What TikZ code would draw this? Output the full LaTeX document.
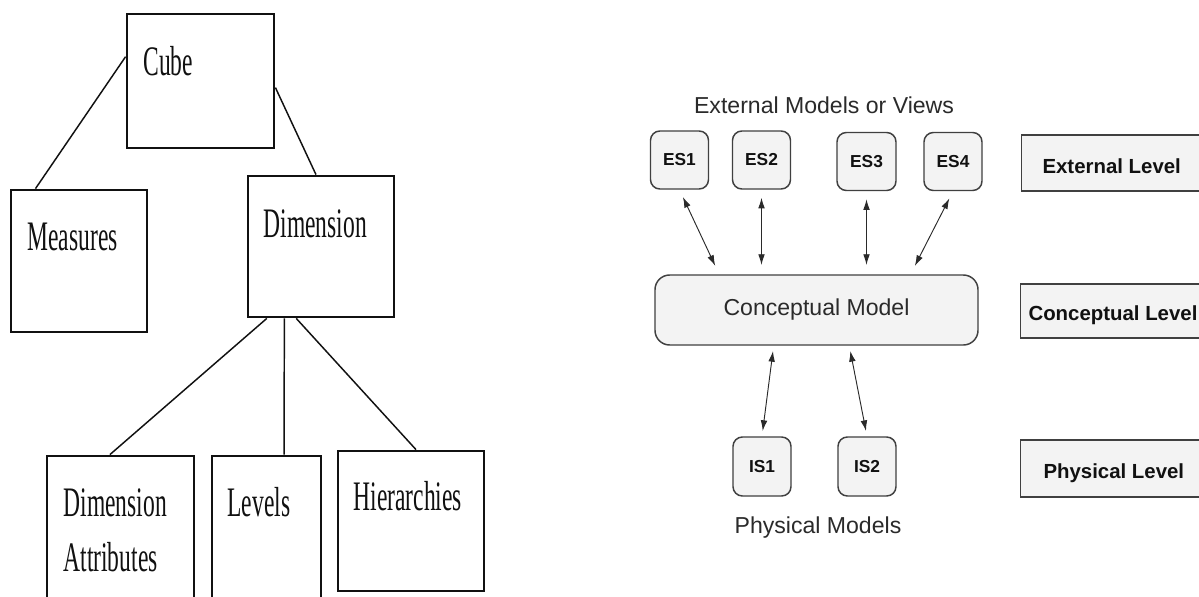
\documentclass[tikz,border=0pt]{standalone}
\usepackage{fontspec}
\usepackage{graphicx}
\setmainfont{Liberation Serif}
\setsansfont{Liberation Sans}
\usetikzlibrary{arrows.meta,calc}
\definecolor{ink}{HTML}{111111}
\definecolor{wire}{HTML}{2A2A2A}
\definecolor{shell}{HTML}{404040}
\definecolor{panel}{HTML}{F3F3F3}
\newcommand{\narrow}[1]{\scalebox{0.56}[1]{#1}}
\tikzset{
  every picture/.style={line width=0.8pt, text=ink},
  tree/.style={draw=ink, line width=2.1pt, fill=white, inner sep=0pt},
  treetext/.style={anchor=base west, inner sep=0pt, font=\fontsize{31.5}{41.25}\selectfont},
  link/.style={draw=ink, line width=1.1pt},
  schema/.style={draw=shell, fill=panel, line width=1.1pt, rounded corners=7pt, minimum width=43.5pt, minimum height=43.5pt, font=\sffamily\bfseries\fontsize{13}{15}\selectfont},
  caption/.style={anchor=base, inner sep=0pt, font=\sffamily\fontsize{17.3}{20}\selectfont, text=wire},
  lvlbox/.style={draw=shell, fill=panel, line width=1pt, minimum width=146pt, inner sep=0pt},
  lvltext/.style={anchor=base west, inner sep=0pt, font=\sffamily\bfseries\fontsize{15.3}{18}\selectfont},
  flow/.style={{Latex[length=8pt,width=5pt]}-{Latex[length=8pt,width=5pt]}, draw=wire, line width=0.7pt},
}

\begin{document}
\begin{tikzpicture}[x=0.75pt, y=-0.75pt]
\fill[white] (0,0) rectangle (1199,596);
\clip (0,0) rectangle (1199,596);

% cube schema tree
\node[tree, minimum width=110.25pt, minimum height=100.5pt] (cube) at (200.5,81) {};
\node[tree, minimum width=102pt, minimum height=106.5pt] (measures) at (79,261) {};
\node[tree, minimum width=109.5pt, minimum height=105.75pt] (dimension) at (321,246.5) {};
\node[tree, minimum width=110.25pt, minimum height=111pt] (dimattr) at (120.5,530) {};
\node[tree, minimum width=81.75pt, minimum height=111.75pt] (levels) at (266.5,530.5) {};
\node[tree, minimum width=109.5pt, minimum height=105pt] (hier) at (411,521) {};
\node[treetext] (cubetxt) at (143,75) {\narrow{Cube}};
\node[treetext] (measurestxt) at (27,250) {\narrow{Measures}};
\node[treetext] (dimensiontxt) at (263,237) {\narrow{Dimension}};
\node[treetext] (dimattrtxt) at (63,516) {\narrow{\begin{tabular}[t]{@{}l@{}}Dimension\\Attributes\end{tabular}}};
\node[treetext] (levelstxt) at (227,516) {\narrow{Levels}};
\node[treetext] (hiertxt) at (353,510) {\narrow{Hierarchies}};
\draw[link] (cube.162) -- (measures.121);
\draw[link] (cube.-5) -- (dimension.94);
\draw[link] (dimension.233) -- (dimattr.98);
\draw[link] (dimension.243) -- (levels.77);
\draw[link] (dimension.251) -- (hier.86);

% three level architecture
\node[caption] (extcap) at (824,113) {External Models or Views};
\node[schema] (es1) at (679.5,160) {ES1};
\node[schema] (es2) at (761.5,160) {ES2};
\node[schema, minimum width=44.25pt] (es3) at (866.5,161.5) {ES3};
\node[schema] (es4) at (953,161.5) {ES4};
\node[schema, minimum width=242.25pt, minimum height=52.5pt, rounded corners=11pt, font=\sffamily\fontsize{17.3}{20}\selectfont, text=wire] (concept) at (816.5,310) {Conceptual Model};
\node[schema, minimum height=44.25pt] (is1) at (762,466.5) {IS1};
\node[schema, minimum height=44.25pt] (is2) at (867,466.5) {IS2};
\node[caption] (phycap) at (818,533) {Physical Models};
\coordinate (c1) at ($(concept.north west)!0.2!(concept.north east)$);
\coordinate (c4) at ($(concept.north west)!0.79!(concept.north east)$);
\coordinate (b1) at ($(concept.south west)!0.368!(concept.south east)$);
\coordinate (b2) at ($(concept.south west)!0.601!(concept.south east)$);
\draw[flow, shorten <=6pt, shorten >=7pt] (es1.south) -- (c1);
\draw[flow, shorten <=6pt, shorten >=7pt] (es2.south) -- (es2.south |- concept.north);
\draw[flow, shorten <=6pt, shorten >=7pt] (es3.south) -- (es3.south |- concept.north);
\draw[flow, shorten <=6pt, shorten >=7pt] (es4.south) -- (c4);
\draw[flow, shorten <=4pt, shorten >=4pt] (b1) -- (is1.north);
\draw[flow, shorten <=4pt, shorten >=4pt] (b2) -- (is2.north);

% level labels
\node[lvlbox, minimum height=42pt] (extlvl) at (1118.5,163) {};
\node[lvlbox, minimum height=40.5pt] (conlvl) at (1117.5,311) {};
\node[lvlbox, minimum height=42.75pt] (phylvl) at (1117.5,468.5) {};
\node[lvltext] (extlvltxt) at (1042,173) {External Level};
\node[lvltext] (conlvltxt) at (1028,320) {Conceptual Level};
\node[lvltext] (phylvltxt) at (1043,478) {Physical Level};
\end{tikzpicture}
\end{document}
